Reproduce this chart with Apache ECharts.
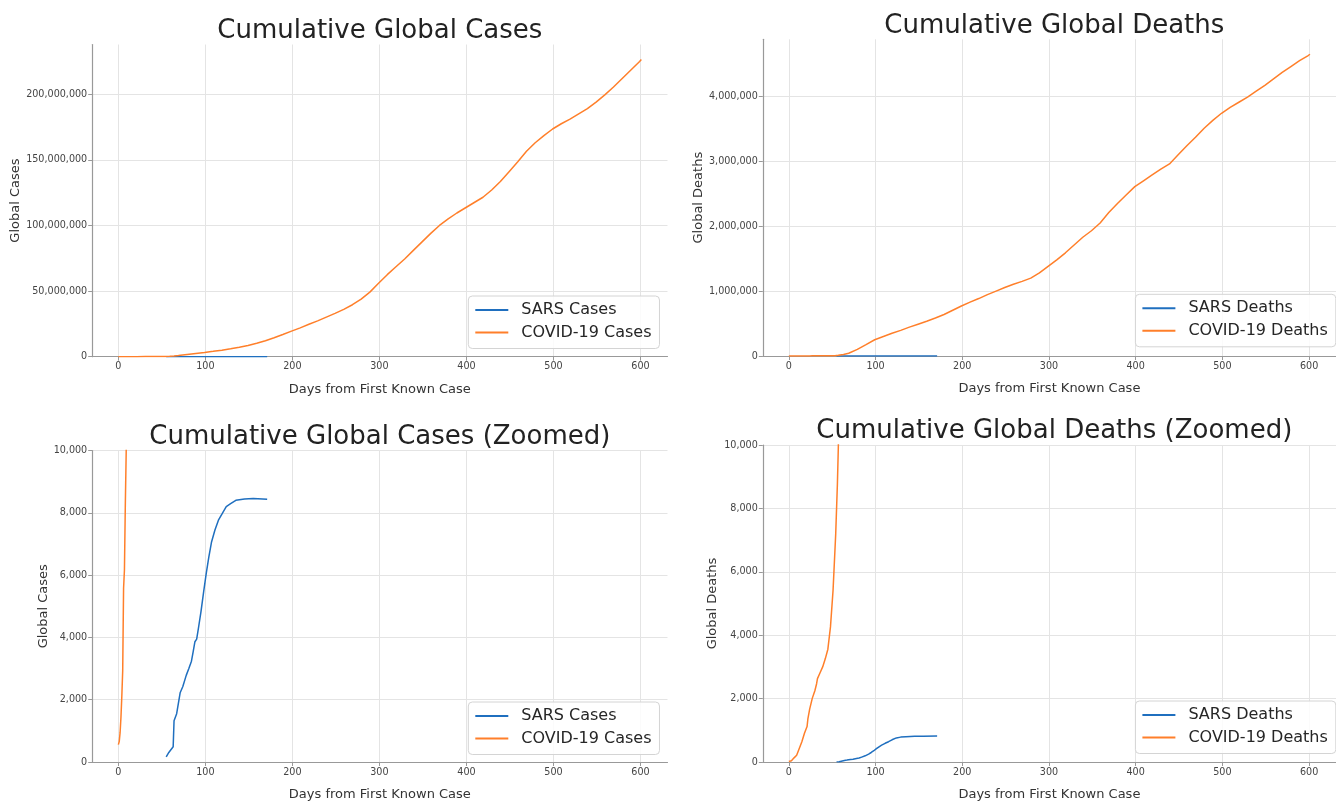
<!DOCTYPE html>
<html>
<head>
<meta charset="utf-8">
<script src="https://cdn.jsdelivr.net/npm/echarts@6/dist/echarts.min.js"></script>
<style>
html,body{margin:0;padding:0;background:#ffffff;}
#chart{width:1336px;height:802px;}
</style>
</head>
<body>
<div id="chart"></div>
<script>
// ---------------- data ----------------
const panelTitles = ['Cumulative Global Cases', 'Cumulative Global Deaths', 'Cumulative Global Cases (Zoomed)', 'Cumulative Global Deaths (Zoomed)'];
const yAxisNames = ['Global Cases', 'Global Deaths', 'Global Cases', 'Global Deaths'];
const xAxisName = 'Days from First Known Case';
const caseLegend = ['SARS Cases', 'COVID-19 Cases'];
const deathLegend = ['SARS Deaths', 'COVID-19 Deaths'];

const xTicks = [0, 100, 200, 300, 400, 500, 600];
const casesTicks = [0, 50000000, 100000000, 150000000, 200000000];
const deathsTicks = [0, 1000000, 2000000, 3000000, 4000000];
const zoomTicks = [0, 2000, 4000, 6000, 8000, 10000];

const covidCaseDays = [0,1,2,3,4,5,6,7,8,9,10,14,21,22,31,39,49,54,59,64,69,
  79,89,99,109,119,129,139,149,159,169,179,189,199,209,219,229,239,249,259,269,279,289,299,
  309,319,329,339,349,359,369,379,389,399,409,419,429,439,449,459,469,479,489,499,
  509,519,529,539,549,559,569,579,589,599,601];
const covidCaseValues = [557,655,941,1434,2118,2927,5578,6166,8234,9927,12038,28276,45000,60000,78600,88000,126000,182000,305000,530000,860000,
  1690000,2470000,3250000,4100000,4990000,6050000,7200000,8560000,10250000,12200000,14400000,16900000,19500000,22000000,24700000,27300000,30200000,33000000,36100000,39600000,43900000,49200000,56000000,
  62500000,68500000,74500000,81000000,87500000,94000000,100000000,105000000,109500000,113500000,117500000,121500000,127000000,133500000,141000000,148500000,156500000,163000000,168500000,173500000,
  177500000,181000000,185000000,189000000,194000000,199500000,205500000,212000000,218500000,225000000,226500000];

const covidDeathDays = [0,3,6,9,12,15,18,21,22,24,27,30,32,33,36,39,42,45,48,51,54,56,57,58,63,69,
  79,89,99,109,119,129,139,149,159,169,179,189,199,209,219,229,239,249,259,269,279,289,299,
  309,319,329,339,349,359,369,379,389,399,409,419,429,439,449,459,469,479,489,499,
  509,519,529,539,549,559,569,579,589,599,601];
const covidDeathValues = [17,42,131,213,426,637,905,1118,1371,1666,2007,2247,2469,2629,2814,3000,3254,3558,4262,5428,7170,8778,9860,11300,21800,42100,
  102000,175000,250000,300000,350000,395000,445000,490000,535000,585000,640000,705000,770000,830000,885000,945000,1000000,1055000,1105000,1150000,1200000,1280000,1380000,
  1480000,1590000,1710000,1830000,1930000,2050000,2210000,2350000,2480000,2610000,2700000,2790000,2880000,2960000,3100000,3240000,3370000,3510000,3630000,3740000,
  3830000,3910000,3990000,4080000,4170000,4270000,4370000,4460000,4550000,4630000,4650000];

const sarsCaseDays = [55,58,63,64,67,71,74,78,81,84,86,88,90,92,95,98,101,104,107,111,115,119,124,129,135,145,155,171];
const sarsCaseValues = [167,306,487,1323,1550,2223,2416,2781,3000,3235,3547,3861,3947,4288,4836,5462,6054,6583,7053,7447,7761,7956,8202,8295,8402,8445,8458,8437];

const sarsDeathDays = [55,58,64,67,71,74,78,81,84,88,92,95,98,101,104,107,111,115,119,124,129,135,145,155,171];
const sarsDeathValues = [4,10,49,60,78,85,110,125,155,195,250,300,355,420,480,530,590,640,700,760,785,800,810,815,820];

// ---------------- layout / style ----------------
const FONT = 'DejaVu Sans';
const BLUE = '#1f6fbf';
const ORANGE = '#ff7f2a';
const grids = [
  {left: 92.2, top: 44.5, width: 575.3, height: 312.2},
  {left: 762.8, top: 39.3, width: 583, height: 316.7},
  {left: 92.2, top: 450.5, width: 575.3, height: 312.5},
  {left: 762.8, top: 445, width: 583, height: 317}
];
const yMax = [237.9e6, 4.88e6, 10000, 10000];
const yTickSets = [casesTicks, deathsTicks, zoomTicks, zoomTicks];
const yNameGaps = [69, 58, 42, 44];
const titleTops = [18, 13, 424, 418];
const legendPos = [
  {left: 468.3, top: 296},
  {left: 1135.4, top: 294.3},
  {left: 468.3, top: 702},
  {left: 1135.4, top: 701}
];

function pairs(days, vals) { return days.map((d, i) => [d, vals[i]]); }
function fmt(v) { return Math.round(v).toLocaleString('en-US'); }

const measureCtx = document.createElement('canvas').getContext('2d');
function textWidth(t, size) { measureCtx.font = size + 'px "' + FONT + '"'; return measureCtx.measureText(t).width; }

const titles = panelTitles.map((t, i) => {
  const cx = grids[i].left + grids[i].width / 2;
  return {
    text: t, left: cx - textWidth(t, 26) / 2, top: titleTops[i], padding: 0,
    textStyle: {fontFamily: FONT, fontSize: 26, fontWeight: 'normal', color: '#222222'}
  };
});

const xAxes = grids.map((g, i) => ({
  type: 'value', gridIndex: i, min: -30.05, max: 631.05,
  name: xAxisName, nameLocation: 'middle', nameGap: 26,
  nameTextStyle: {fontFamily: FONT, fontSize: 13, color: '#333333'},
  axisLine: {show: true, onZero: false, lineStyle: {color: '#999999', width: 1.2}},
  axisTick: {show: true, length: 4, customValues: xTicks, lineStyle: {color: '#999999'}},
  axisLabel: {customValues: xTicks, showMinLabel: true, showMaxLabel: true, margin: 5,
    fontFamily: FONT, fontSize: 9.6, color: '#444444', formatter: fmt},
  splitLine: {show: true, showMinLine: true, showMaxLine: true, lineStyle: {color: '#e4e4e4', width: 1}}
}));

const yAxes = grids.map((g, i) => ({
  type: 'value', gridIndex: i, min: 0, max: yMax[i],
  name: yAxisNames[i], nameLocation: 'middle', nameGap: yNameGaps[i],
  nameTextStyle: {fontFamily: FONT, fontSize: 13, color: '#333333'},
  axisLine: {show: true, onZero: false, lineStyle: {color: '#999999', width: 1.2}},
  axisTick: {show: true, length: 4, customValues: yTickSets[i], lineStyle: {color: '#999999'}},
  axisLabel: {customValues: yTickSets[i], showMinLabel: true, showMaxLabel: true, margin: 5,
    fontFamily: FONT, fontSize: 9.6, color: '#444444', formatter: fmt},
  splitLine: {show: true, showMinLine: true, showMaxLine: true, lineStyle: {color: '#e4e4e4', width: 1}}
}));

const legends = legendPos.map((p, i) => ({
  data: (i % 2 === 0) ? caseLegend : deathLegend,
  orient: 'vertical', left: p.left, top: p.top,
  padding: [6, 8, 8, 7], itemGap: 6.5,
  icon: 'rect', itemWidth: 33, itemHeight: 2,
  backgroundColor: 'rgba(255,255,255,0.85)', borderColor: '#d4d4d4', borderWidth: 1, borderRadius: 4,
  textStyle: {fontFamily: FONT, fontSize: 16, color: '#262626', lineHeight: 16, padding: [0, 0, 0, 8]}
}));

function lineSeries(name, color, idx, data) {
  return {
    name: name, type: 'line', xAxisIndex: idx, yAxisIndex: idx,
    data: data, showSymbol: false, symbol: 'none', clip: true,
    color: color, lineStyle: {color: color, width: 1.5}, itemStyle: {color: color},
    animation: false
  };
}

const series = [
  lineSeries(caseLegend[0], BLUE, 0, pairs(sarsCaseDays, sarsCaseValues)),
  lineSeries(caseLegend[1], ORANGE, 0, pairs(covidCaseDays, covidCaseValues)),
  lineSeries(deathLegend[0], BLUE, 1, pairs(sarsDeathDays, sarsDeathValues)),
  lineSeries(deathLegend[1], ORANGE, 1, pairs(covidDeathDays, covidDeathValues)),
  lineSeries(caseLegend[0], BLUE, 2, pairs(sarsCaseDays, sarsCaseValues)),
  lineSeries(caseLegend[1], ORANGE, 2, pairs(covidCaseDays, covidCaseValues)),
  lineSeries(deathLegend[0], BLUE, 3, pairs(sarsDeathDays, sarsDeathValues)),
  lineSeries(deathLegend[1], ORANGE, 3, pairs(covidDeathDays, covidDeathValues))
];

const chart = echarts.init(document.getElementById('chart'), null, {renderer: 'canvas'});
chart.setOption({
  backgroundColor: '#ffffff',
  animation: false,
  title: titles,
  legend: legends,
  grid: grids.map(g => Object.assign({containLabel: false}, g)),
  xAxis: xAxes,
  yAxis: yAxes,
  series: series
});
</script>
</body>
</html>
